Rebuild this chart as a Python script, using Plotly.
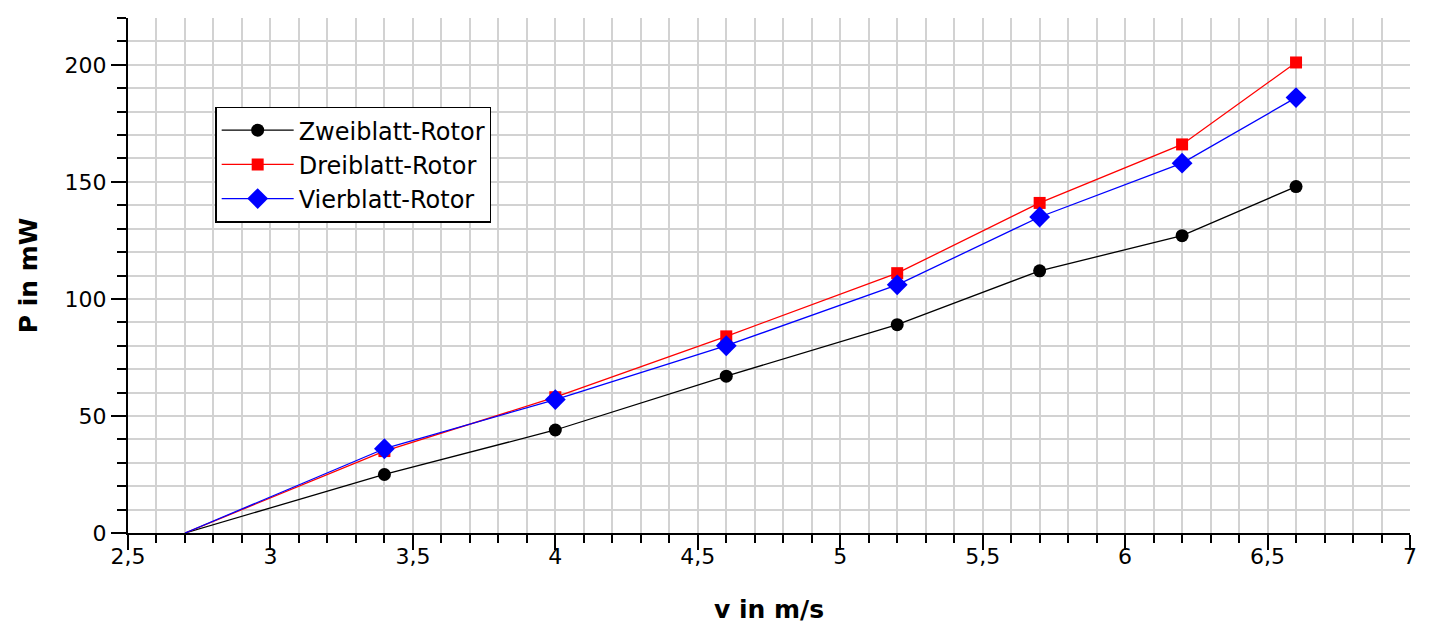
import plotly.graph_objects as go

# Wind speed (m/s) and measured power (mW) for three rotor types
v = [2.7, 3.4, 4.0, 4.6, 5.2, 5.7, 6.2, 6.6]
p_zwei = [0, 25, 44, 67, 89, 112, 127, 148]
p_drei = [0, 35, 58, 84, 111, 141, 166, 201]
p_vier = [0, 36, 57, 80, 106, 135, 158, 186]

FONT = "DejaVu Sans"

series = [
    ("Zweiblatt-Rotor", p_zwei, "black", "circle", 13),
    ("Dreiblatt-Rotor", p_drei, "#ff0000", "square", 12),
    ("Vierblatt-Rotor", p_vier, "#0000ff", "diamond", 16),
]

fig = go.Figure()
for name, p, color, symbol, msize in series:
    # lead-in segment from the start-up speed (no marker there)
    fig.add_trace(go.Scatter(
        x=v[:2], y=p[:2], mode="lines", showlegend=False, hoverinfo="skip",
        legendgroup=name, line=dict(color=color, width=1.3),
    ))
    # measured points
    fig.add_trace(go.Scatter(
        x=v[1:], y=p[1:], mode="lines+markers", name=name, legendgroup=name,
        line=dict(color=color, width=1.3),
        marker=dict(symbol=symbol, size=msize, color=color, opacity=1),
    ))

grid = "#d2d2d2"
fig.update_layout(
    width=1430, height=633,
    margin=dict(l=128, r=20, t=18, b=100),
    plot_bgcolor="white", paper_bgcolor="white",
    separators=", ",
    font=dict(family=FONT, size=22, color="black"),
    showlegend=True,
    legend=dict(
        x=0.068, y=0.828, xanchor="left", yanchor="top",
        bordercolor="black", borderwidth=1.5, bgcolor="white",
        font=dict(family=FONT, size=24, color="black"),
        itemwidth=72, tracegroupgap=0,
    ),
    xaxis=dict(
        range=[2.5, 7], tick0=2.5, dtick=0.5,
        showgrid=True, gridcolor=grid, gridwidth=2,
        ticks="outside", ticklen=15, tickwidth=1.5, tickcolor="black",
        ticklabelstandoff=-12,
        showline=True, linecolor="black", linewidth=2,
        zeroline=False, automargin=False,
        minor=dict(dtick=0.1, showgrid=True, gridcolor=grid, gridwidth=2,
                   ticks="outside", ticklen=8, tickwidth=1.5, tickcolor="black"),
        title=dict(text="<b>v in m/s</b>", font=dict(family=FONT, size=25), standoff=32),
    ),
    yaxis=dict(
        range=[0, 220], tick0=0, dtick=50,
        showgrid=True, gridcolor=grid, gridwidth=2,
        ticks="outside", ticklen=15, tickwidth=1.5, tickcolor="black",
        showline=True, linecolor="black", linewidth=2,
        zeroline=False, automargin=False,
        minor=dict(dtick=10, showgrid=True, gridcolor=grid, gridwidth=2,
                   ticks="outside", ticklen=9, tickwidth=1.5, tickcolor="black"),
        title=dict(text="<b>P in mW</b>", font=dict(family=FONT, size=25), standoff=20),
    ),
)

fig.write_html("out.html")
